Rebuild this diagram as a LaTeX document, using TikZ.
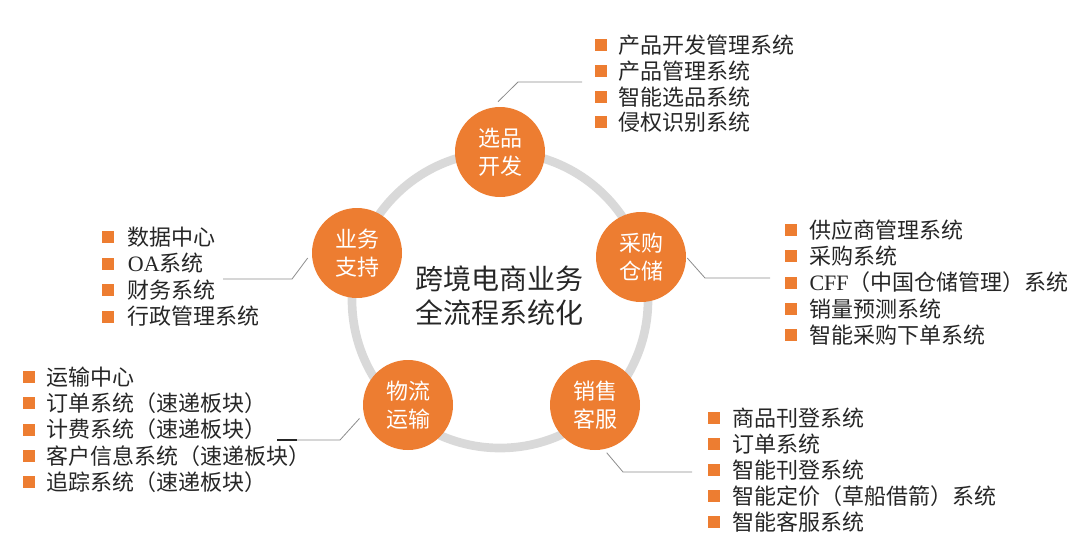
\documentclass[tikz,border=0pt]{standalone}
\usepackage{fontspec}
\setmainfont{Noto Sans CJK SC}
\newfontfamily\latin{Liberation Serif}
\usepackage{tikz}
\usetikzlibrary{positioning}
\definecolor{hubOrange}{HTML}{ED7D31}
\definecolor{ringGray}{HTML}{D9D9D9}
\definecolor{leadGray}{HTML}{8C8C8C}
\definecolor{txtDark}{HTML}{262626}

\begin{document}
\begin{tikzpicture}[x=0.75pt, y=-0.75pt,
        hub/.style={circle, fill=hubOrange, minimum size=67.5pt, inner sep=0pt,
            text=white, align=center, font=\fontsize{16.5}{21}\selectfont},
        ring/.style={ringGray, line width=6.5pt},
        lead/.style={leadGray, line width=0.6pt},
        dot/.style={rectangle, fill=hubOrange, minimum size=9pt, inner sep=0pt},
        item/.style={anchor=west, inner sep=0pt, text=txtDark,
            font=\fontsize{16.5}{20}\selectfont}]
        \useasboundingbox (0,0) rectangle (1080,554);
        \draw[ring] (500,300) circle (148);
        \node[txtDark, align=center, font=\fontsize{21}{25.5}\selectfont] (title) at (499,296) {跨境电商业务\\全流程系统化};
        \node[hub] (dev) at (500,152) {选品\\开发};
        \node[hub] (sup) at (357,253) {业务\\支持};
        \node[hub] (buy) at (641,257) {采购\\仓储};
        \node[hub] (log) at (408,405) {物流\\运输};
        \node[hub] (sal) at (595,405) {销售\\客服};
        % leader lines
        \coordinate (devA) at (518,82);  \coordinate (devB) at (582,82);
        \coordinate (supA) at (292,279); \coordinate (supB) at (223,279);
        \coordinate (buyA) at (705,278); \coordinate (buyB) at (770,278);
        \coordinate (logA) at (340,440); \coordinate (logB) at (297,440);
        \coordinate (salA) at (623,472); \coordinate (salB) at (692,472);
        \draw[lead] ([shift={(-2,-5)}]dev.north) -- (devA) -- (devB);
        \draw[lead] ([shift={(-4,5)}]sup.west) -- (supA) -- (supB);
        \draw[lead] ([shift={(1,1)}]buy.east) -- (buyA) -- (buyB);
        \draw[lead] ([shift={(-6,-2)}]log.200) -- (logA) -- (logB);
        \draw[lead] ([shift={(0,4)}]sal.-75) -- (salA) -- (salB);
        \draw[txtDark, line width=1.2pt] (logB) -- ++(-20,0);
        % lists
        \foreach \t [count=\i] in {产品开发管理系统, 产品管理系统, 智能选品系统, 侵权识别系统} {
            \node[dot] (devdot\i) at (601,{45+25.8*(\i-1)}) {};
            \node[item, right=8pt of devdot\i] (devitem\i) {\t};
        }
        \foreach \t [count=\i] in {供应商管理系统, 采购系统, {{\latin CFF}（中国仓储管理）系统}, 销量预测系统, 智能采购下单系统} {
            \node[dot] (buydot\i) at (791,{230+26.3*(\i-1)}) {};
            \node[item, right=9pt of buydot\i] (buyitem\i) {\t};
        }
        \foreach \t [count=\i] in {数据中心, {{\latin OA}系统}, 财务系统, 行政管理系统} {
            \node[dot] (supdot\i) at (108,{237+26.5*(\i-1)}) {};
            \node[item, right=10pt of supdot\i] (supitem\i) {\t};
        }
        \foreach \t [count=\i] in {运输中心, 订单系统（速递板块）, 计费系统（速递板块）, 客户信息系统（速递板块）, 追踪系统（速递板块）} {
            \node[dot] (logdot\i) at (29,{377+26.3*(\i-1)}) {};
            \node[item, right=8pt of logdot\i] (logitem\i) {\t};
        }
        \foreach \t [count=\i] in {商品刊登系统, 订单系统, 智能刊登系统, 智能定价（草船借箭）系统, 智能客服系统} {
            \node[dot] (saldot\i) at (714,{418+26*(\i-1)}) {};
            \node[item, right=9pt of saldot\i] (salitem\i) {\t};
        }
    \end{tikzpicture}
\end{document}
